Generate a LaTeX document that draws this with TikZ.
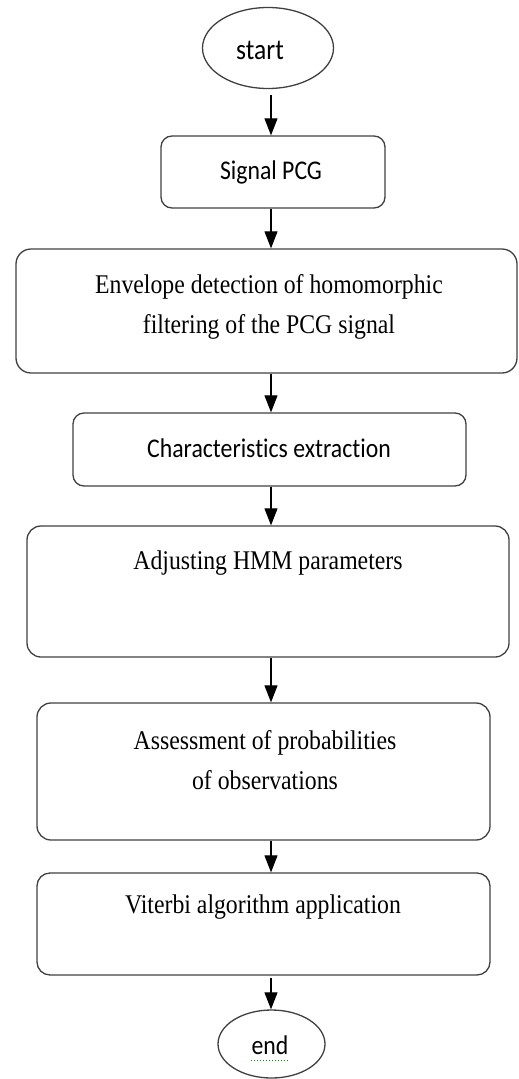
\documentclass[tikz,border=0pt]{standalone}
\usepackage{fontspec}
\setmainfont{Liberation Serif}
\newfontfamily\sercond[FakeStretch=0.88]{Liberation Serif}
\newfontfamily\calib[FakeStretch=0.88,RawFeature=-liga]{Carlito}
\usetikzlibrary{arrows.meta,shapes.geometric}
\begin{document}
\begin{tikzpicture}[x=1pt,y=-1pt,
  boxst/.style={draw=black!75, line width=1.3pt, rounded corners=11pt, inner sep=0pt},
  ovalst/.style={draw=black!75, line width=1.3pt, ellipse, inner sep=0pt},
  sanst/.style={font=\calib\fontsize{27}{32}\selectfont, inner sep=0pt},
  serst/.style={font=\sercond\fontsize{27}{40}\selectfont, inner sep=0pt, align=center},
  arr/.style={draw=black, line width=1.1pt, -{Triangle[length=17pt,width=13pt]}}]
\useasboundingbox (0,0) rectangle (519,1079);
\coordinate (axis) at (271,0);
% shapes
\node[ovalst, minimum width=131pt, minimum height=81pt] (start) at (268,48) {};
\node[boxst, minimum width=224pt, minimum height=72pt] (sig) at (273,172) {};
\node[boxst, rounded corners=15pt, minimum width=501pt, minimum height=124pt] (env) at (266.5,311) {};
\node[boxst, minimum width=393pt, minimum height=73pt] (chr) at (269.5,449.5) {};
\node[boxst, rounded corners=14pt, minimum width=482pt, minimum height=131pt] (adj) at (268,591.5) {};
\node[boxst, rounded corners=14pt, minimum width=453pt, minimum height=137pt] (ass) at (263.5,771.5) {};
\node[boxst, rounded corners=13pt, minimum width=453pt, minimum height=102pt] (vit) at (263.5,924) {};
\node[ovalst, minimum width=107pt, minimum height=68pt] (end) at (271.5,1044) {};
% texts
\node[sanst, font=\calib\fontsize{29}{32}\selectfont] (tstart) at (260,50) {start};
\node[sanst] (tsig) at (271,172) {Signal PCG};
\node[serst] (tenv) at (269,307) {Envelope detection of homomorphic\\filtering of the PCG signal};
\node[sanst] (tchr) at (269,448) {Characteristics extraction};
\node[serst] (tadj) at (268,563) {Adjusting HMM parameters};
\node[serst] (tass) at (265,760) {Assessment of probabilities\\of observations};
\node[serst] (tvit) at (263,907) {Viterbi algorithm application};
\node[sanst] (tend) at (270,1045) {end};
\draw[green!60!black, line width=1pt, dotted] ([yshift=-6pt]tend.south west) -- ([yshift=-6pt]tend.south east);
% connectors
\draw[arr] ([yshift=-6pt]start.south -| axis) -- (sig.north -| axis);
\draw[arr] (sig.south -| axis) -- (env.north -| axis);
\draw[arr] (env.south -| axis) -- (chr.north -| axis);
\draw[arr] (chr.south -| axis) -- (adj.north -| axis);
\draw[arr] (adj.south -| axis) -- (ass.north -| axis);
\draw[arr] (ass.south -| axis) -- (vit.north -| axis);
\draw[arr] ([yshift=-2pt]vit.south -| axis) -- (end.north -| axis);
\end{tikzpicture}
\end{document}
